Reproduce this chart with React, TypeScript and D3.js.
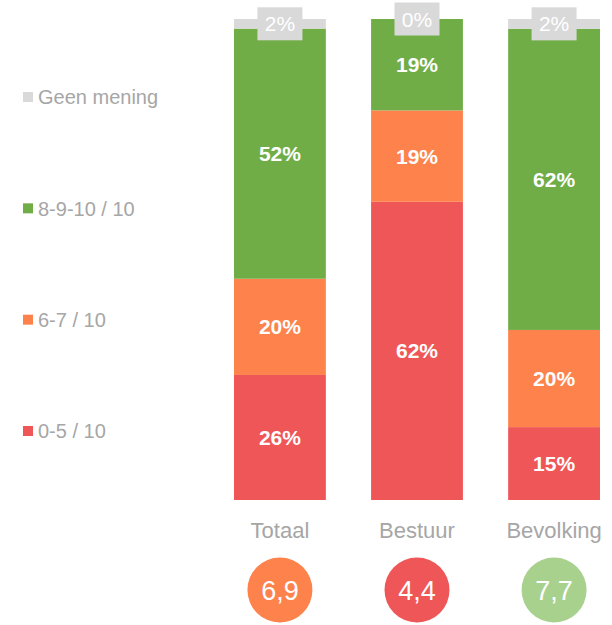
import { useEffect, useRef } from "react";
import * as d3 from "d3";

const groups = ["Totaal", "Bestuur", "Bevolking"];
const keys = ["laag", "midden", "hoog", "geen"];
const legendLabels = ["0-5 / 10", "6-7 / 10", "8-9-10 / 10", "Geen mening"];
const laag = [26, 62, 15];
const midden = [20, 19, 20];
const hoog = [52, 19, 62];
const geen = [2, 0, 2];
const scores = ["6,9", "4,4", "7,7"];
const scoreColors = ["#fe824b", "#ef5658", "#a9d18e"];

const colors: Record<string, string> = {
  laag: "#ef5658",
  midden: "#fe824b",
  hoog: "#70ad47",
  geen: "#d9d9d9",
};

const W = 612;
const H = 625;

const App = () => {
  const ref = useRef<SVGSVGElement>(null);

  useEffect(() => {
    if (!ref.current) return;
    const svg = d3.select(ref.current);
    svg.selectAll("*").remove();

    const rows = groups.map((g, i) => ({
      group: g,
      laag: laag[i],
      midden: midden[i],
      hoog: hoog[i],
      geen: geen[i],
    }));

    const stack = d3
      .stack<any>()
      .keys(keys)
      .offset(d3.stackOffsetExpand);
    const series = stack(rows);

    const x = d3
      .scaleBand<string>()
      .domain(groups)
      .range([234, 600])
      .paddingInner(0.33)
      .paddingOuter(0);
    const y = d3.scaleLinear().domain([0, 1]).range([500, 19]);

    const font = "'Liberation Sans', Arial, sans-serif";

    const layer = svg
      .append("g")
      .selectAll("g")
      .data(series)
      .join("g")
      .attr("fill", (d) => colors[d.key]);

    layer
      .selectAll("rect")
      .data((d) => d)
      .join("rect")
      .attr("x", (d) => x(d.data.group)!)
      .attr("width", x.bandwidth())
      .attr("y", (d) => y(d[1]))
      .attr("height", (d) => y(d[0]) - y(d[1]));

    // value labels
    series.forEach((s) => {
      s.forEach((d) => {
        const v = d.data[s.key];
        const cx = x(d.data.group)! + x.bandwidth() / 2;
        const cy = (y(d[0]) + y(d[1])) / 2;
        if (s.key === "geen") {
          svg
            .append("rect")
            .attr("x", cx - 22.5)
            .attr("y", cy - 16.5)
            .attr("width", 45)
            .attr("height", 33)
            .attr("fill", colors.geen);
          svg
            .append("text")
            .attr("x", cx)
            .attr("y", cy)
            .attr("dy", "0.36em")
            .attr("text-anchor", "middle")
            .attr("fill", "#fff")
            .attr("font-family", font)
            .attr("font-size", 21)
            .text(`${v}%`);
        } else {
          svg
            .append("text")
            .attr("x", cx)
            .attr("y", cy)
            .attr("dy", "0.36em")
            .attr("text-anchor", "middle")
            .attr("fill", "#fff")
            .attr("font-family", font)
            .attr("font-weight", "bold")
            .attr("font-size", 21)
            .text(`${v}%`);
        }
      });
    });

    // category labels and score circles
    const cat = svg
      .append("g")
      .selectAll("g")
      .data(groups)
      .join("g")
      .attr("transform", (d) => `translate(${x(d)! + x.bandwidth() / 2},0)`);

    cat
      .append("text")
      .attr("y", 530)
      .attr("dy", "0.36em")
      .attr("text-anchor", "middle")
      .attr("fill", "#a6a6a6")
      .attr("font-family", font)
      .attr("font-size", 22)
      .text((d) => d);

    cat
      .append("circle")
      .attr("cy", 590)
      .attr("r", 32.5)
      .attr("fill", (_d, i) => scoreColors[i]);

    cat
      .append("text")
      .attr("y", 590)
      .attr("dy", "0.36em")
      .attr("text-anchor", "middle")
      .attr("fill", "#fff")
      .attr("font-family", font)
      .attr("font-size", 27)
      .text((_d, i) => scores[i]);

    // legend
    const ly = d3
      .scalePoint<string>()
      .domain([...keys].reverse())
      .range([97, 431]);
    const leg = svg
      .append("g")
      .selectAll("g")
      .data(keys)
      .join("g")
      .attr("transform", (d) => `translate(23,${ly(d)})`);
    leg
      .append("rect")
      .attr("y", -5)
      .attr("width", 10)
      .attr("height", 10)
      .attr("fill", (d) => colors[d]);
    leg
      .append("text")
      .attr("x", 15)
      .attr("dy", "0.36em")
      .attr("fill", "#a6a6a6")
      .attr("font-family", font)
      .attr("font-size", 20)
      .text((_d, i) => legendLabels[i]);
  }, []);

  return (
    <svg
      ref={ref}
      width={W}
      height={H}
      style={{ position: "absolute", left: 0, top: 0, background: "#fff" }}
    />
  );
};

export default App;
